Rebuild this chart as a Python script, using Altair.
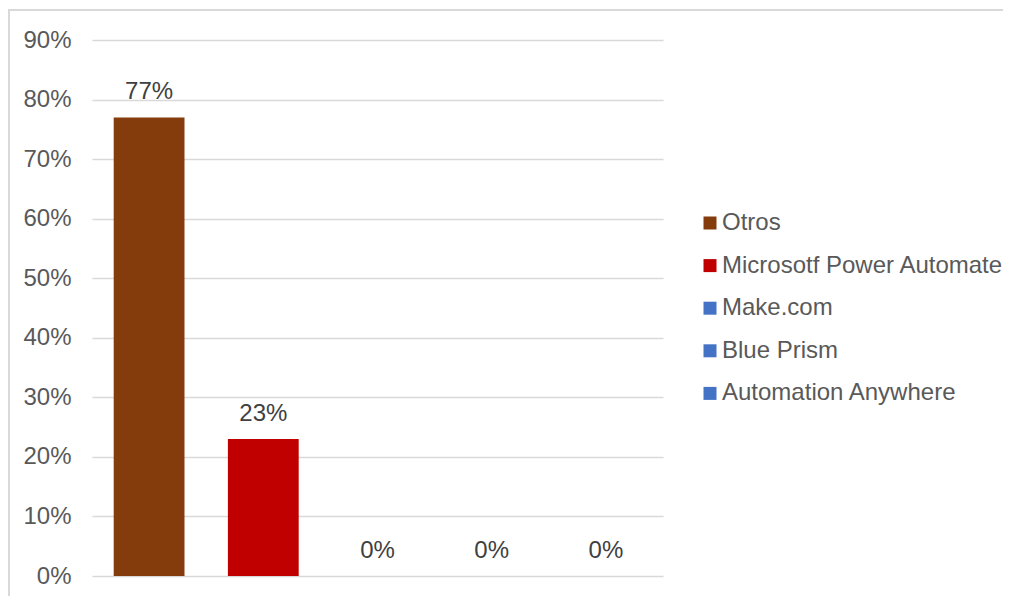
import altair as alt
import pandas as pd

categories = ["Otros", "Microsotf Power Automate", "Make.com", "Blue Prism", "Automation Anywhere"]
values = [0.77, 0.23, 0.0, 0.0, 0.0]
colors = ["#843C0C", "#C00000", "#4472C4", "#4472C4", "#4472C4"]
y_ticks = [0, 0.1, 0.2, 0.3, 0.4, 0.5, 0.6, 0.7, 0.8, 0.9]

df = pd.DataFrame({"category": categories, "value": values})

FONT = "Liberation Sans"

x = alt.X("category:N", sort=categories, axis=None,
          scale=alt.Scale(paddingInner=0.38, paddingOuter=0.19))
y = alt.Y("value:Q",
          scale=alt.Scale(domain=[0, 0.9], nice=False),
          axis=alt.Axis(values=y_ticks, format=".0%", title=None, domain=False, ticks=False,
                        labelFontSize=24, labelColor="#595959", labelFont=FONT,
                        labelPadding=21, gridColor="#d9d9d9", gridWidth=1.5))

bars = alt.Chart(df).mark_bar().encode(
    x=x, y=y,
    color=alt.Color("category:N", sort=categories,
                    scale=alt.Scale(domain=categories, range=colors),
                    legend=alt.Legend(title=None, orient="none", legendX=606, legendY=171,
                                      symbolType="square", symbolSize=169, symbolStrokeWidth=0,
                                      labelFontSize=24, labelColor="#595959", labelFont=FONT,
                                      rowPadding=18.6, labelOffset=0, labelLimit=400)),
)

labels = alt.Chart(df).mark_text(baseline="middle", dy=-25, fontSize=24,
                                 color="#404040", font=FONT).encode(
    x=alt.X("category:N", sort=categories), y="value:Q",
    text=alt.Text("value:Q", format=".0%"),
)

border = alt.Chart(df).mark_rect(fill=None, stroke="#d9d9d9", strokeWidth=1.5).encode(
    x=alt.value(-83), x2=alt.value(1000), y=alt.value(-30), y2=alt.value(600)
)

chart = alt.layer(border, bars, labels).properties(
    width=571, height=536,
    autosize=alt.AutoSizeParams(type="none"),
    padding={"left": 84, "top": 32, "right": 340, "bottom": 20},
    background="white",
).configure_view(stroke="transparent", strokeWidth=0)

chart.save("out.html", embed_options={"renderer": "svg", "actions": False})
